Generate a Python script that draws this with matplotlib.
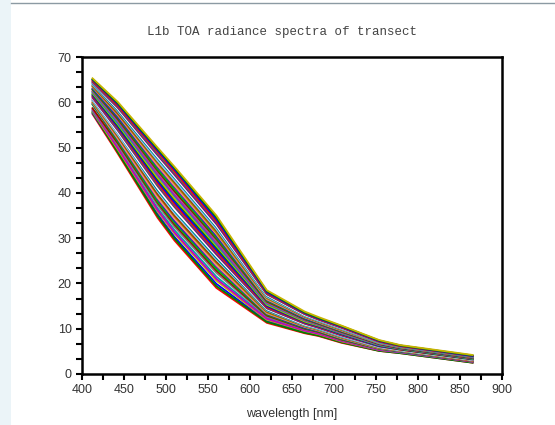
import matplotlib
matplotlib.use('Agg')
import matplotlib.pyplot as plt
import numpy as np
from matplotlib.patches import Rectangle
from matplotlib.lines import Line2D

# MERIS band centres [nm]
wavelengths = [412.5, 442.5, 490, 510, 560, 620, 665, 681.25, 708.75, 753.75, 778.75, 865]

# radiance per band, one value per transect pixel (40 pixels)
b412 = [57.4, 57.6, 57.8, 57.9, 58.1, 58.3, 58.5, 58.7,
        59.5, 59.7, 59.9, 60.0, 60.3, 60.4, 60.7, 60.8, 61.0, 61.3, 61.4, 61.6, 61.8, 62.0, 62.2, 62.4,
        62.5, 62.8, 62.9, 63.1, 63.4, 63.5, 63.7, 63.9, 64.1, 64.3, 64.4, 64.6, 64.8, 65.0, 65.1, 65.3]
b443 = [48.7, 49.2, 49.0, 49.6, 50.1, 49.9, 50.6, 51.0,
        51.4, 51.8, 52.0, 52.4, 52.6, 52.9, 53.3, 53.4, 53.8, 54.0, 54.4, 54.6, 54.9, 55.2, 55.4, 55.8,
        56.0, 56.3, 56.6, 56.8, 57.2, 57.4, 57.6, 58.0, 58.2, 58.5, 58.8, 59.0, 59.3, 59.6, 59.8, 60.1]
b490 = [34.5, 35.3, 34.9, 35.9, 36.6, 36.2, 37.3, 37.8,
        38.1, 38.6, 38.9, 39.5, 39.7, 40.3, 40.6, 41.0, 41.5, 41.7, 42.2, 42.6, 43.0, 43.3, 43.8, 44.1,
        44.6, 44.9, 45.2, 45.7, 46.0, 46.5, 46.8, 47.1, 47.6, 47.9, 48.3, 48.6, 49.1, 49.4, 49.7, 50.0]
b510 = [29.5, 30.3, 29.9, 31.0, 31.8, 31.3, 32.5, 33.0,
        33.4, 33.8, 34.3, 34.8, 35.0, 35.6, 36.0, 36.3, 36.9, 37.1, 37.6, 38.0, 38.5, 38.8, 39.3, 39.6,
        40.1, 40.4, 40.8, 41.3, 41.6, 42.1, 42.4, 42.8, 43.3, 43.6, 44.0, 44.3, 44.8, 45.2, 45.5, 45.8]
b560 = [19.0, 19.9, 19.4, 20.6, 21.5, 21.0, 22.3, 22.8,
        23.2, 23.7, 24.0, 24.5, 24.8, 25.3, 25.6, 26.0, 26.4, 26.8, 27.1, 27.5, 27.9, 28.3, 28.6, 29.0,
        29.4, 29.8, 30.1, 30.5, 30.9, 31.2, 31.6, 32.0, 32.4, 32.7, 33.1, 33.5, 33.8, 34.2, 34.6, 35.0]
b620 = [11.3, 11.7, 11.5, 12.0, 12.4, 12.2, 12.7, 12.9,
        13.1, 13.3, 13.4, 13.6, 13.8, 14.0, 14.1, 14.3, 14.5, 14.6, 14.8, 15.0, 15.2, 15.3, 15.5, 15.7,
        15.8, 16.0, 16.2, 16.4, 16.5, 16.7, 16.9, 17.0, 17.2, 17.4, 17.6, 17.7, 17.9, 18.1, 18.3, 18.5]
b665 = [9.0, 9.3, 9.1, 9.5, 9.7, 9.6, 9.9, 10.0,
        10.1, 10.2, 10.4, 10.5, 10.6, 10.7, 10.8, 10.9, 11.1, 11.2, 11.3, 11.4, 11.5, 11.6, 11.8, 11.9,
        12.0, 12.1, 12.2, 12.3, 12.5, 12.6, 12.7, 12.8, 12.9, 13.0, 13.2, 13.3, 13.4, 13.5, 13.6, 13.8]
b681 = [8.4, 8.6, 8.5, 8.8, 9.0, 8.9, 9.2, 9.3,
        9.4, 9.5, 9.6, 9.7, 9.8, 9.9, 10.0, 10.1, 10.2, 10.3, 10.4, 10.5, 10.6, 10.7, 10.8, 10.9,
        11.0, 11.1, 11.2, 11.3, 11.4, 11.5, 11.6, 11.7, 11.8, 11.9, 12.0, 12.1, 12.2, 12.3, 12.4, 12.6]
b709 = [6.9, 7.1, 7.0, 7.2, 7.4, 7.3, 7.5, 7.6,
        7.7, 7.8, 7.9, 8.0, 8.1, 8.2, 8.3, 8.4, 8.5, 8.6, 8.7, 8.8, 8.9, 9.0, 9.0, 9.1,
        9.2, 9.3, 9.4, 9.5, 9.6, 9.7, 9.8, 9.9, 10.0, 10.1, 10.2, 10.3, 10.4, 10.5, 10.6, 10.7]
b754 = [5.1, 5.2, 5.1, 5.3, 5.4, 5.3, 5.5, 5.6,
        5.6, 5.7, 5.7, 5.8, 5.8, 5.9, 6.0, 6.0, 6.1, 6.1, 6.2, 6.2, 6.3, 6.4, 6.4, 6.5,
        6.5, 6.6, 6.7, 6.7, 6.8, 6.8, 6.9, 6.9, 7.0, 7.1, 7.1, 7.2, 7.2, 7.3, 7.4, 7.5]
b779 = [4.6, 4.7, 4.6, 4.8, 4.8, 4.8, 4.9, 5.0,
        5.0, 5.0, 5.1, 5.1, 5.2, 5.2, 5.3, 5.3, 5.4, 5.4, 5.4, 5.5, 5.5, 5.6, 5.6, 5.7,
        5.7, 5.7, 5.8, 5.8, 5.9, 5.9, 6.0, 6.0, 6.0, 6.1, 6.1, 6.2, 6.2, 6.3, 6.3, 6.4]
b865 = [2.5, 2.6, 2.5, 2.7, 2.7, 2.7, 2.8, 2.8,
        2.9, 2.9, 2.9, 3.0, 3.0, 3.1, 3.1, 3.1, 3.2, 3.2, 3.3, 3.3, 3.3, 3.4, 3.4, 3.5,
        3.5, 3.5, 3.6, 3.6, 3.7, 3.7, 3.7, 3.8, 3.8, 3.9, 3.9, 3.9, 4.0, 4.0, 4.1, 4.2]

x_labels = ['400', '450', '500', '550', '600', '650', '700', '750', '800', '850', '900']
y_labels = ['0', '10', '20', '30', '40', '50', '60', '70']

# mixed scilab-ish colours, neighbours kept different
colors = ['#ff0000', '#0000ff', '#008000', '#c8b400', '#00a8a8', '#c000c0', '#808080',
          '#a00000', '#00c000', '#2020c0', '#ff8080', '#a0a000', '#a04000', '#80c8ff',
          '#008080', '#ffffff', '#800080', '#606060']

spectra = np.array([b412, b443, b490, b510, b560, b620, b665, b681, b709, b754, b779, b865]).T

fig = plt.figure(figsize=(5.55, 4.25), dpi=100)
fig.patch.set_facecolor('white')
fig.patches.append(Rectangle((0, 0), 11 / 555, 1, transform=fig.transFigure,
                             facecolor='#ebf4f8', edgecolor='none', zorder=0))
fig.lines.append(Line2D([11 / 555, 1], [1 - 3 / 425, 1 - 3 / 425], transform=fig.transFigure,
                        color='#8c9aa3', lw=1))

ax = fig.add_axes([82 / 555, 1 - 374 / 425, 420 / 555, 317 / 425])
for i, s in enumerate(spectra):
    ax.plot(wavelengths, s, color=colors[i % len(colors)], lw=1.3, solid_joinstyle='miter')

ax.set_xlim(400, 900)
ax.set_ylim(0, 70)
ax.set_xticks(np.arange(400, 901, 50))
ax.set_xticklabels(x_labels)
ax.set_yticks(np.arange(0, 71, 10))
ax.set_yticklabels(y_labels)
ax.set_xticks(np.arange(400, 901, 25), minor=True)
ax.set_yticks(np.arange(0, 70.1, 10 / 3), minor=True)
ax.tick_params(which='both', direction='out', length=4, width=1.5, colors='black',
               labelcolor='#333333', labelsize=9, top=False, right=False)
for sp in ax.spines.values():
    sp.set_linewidth(1.8)
for lab in ax.get_xticklabels() + ax.get_yticklabels():
    lab.set_family('Liberation Sans')

ax.set_xlabel('wavelength [nm]', fontsize=9, color='#333333', family='Liberation Sans', labelpad=8)
fig.text(0.509, 1 - 32 / 425, 'L1b TOA radiance spectra of transect', ha='center', va='center',
         family='Liberation Mono', fontsize=9, color='#444444')

plt.savefig('out.png', dpi=100)
